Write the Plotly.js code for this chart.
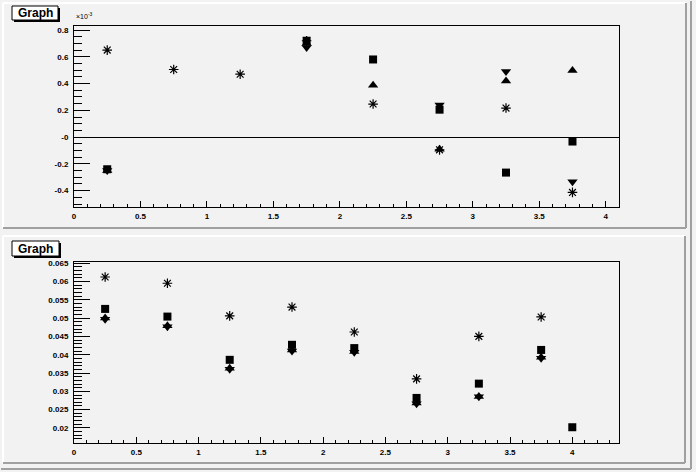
<!DOCTYPE html>
<html>
<head>
<meta charset="utf-8">
<script src="https://cdn.plot.ly/plotly-3.0.1.min.js"></script>
<style>html,body{margin:0;padding:0;background:#f2f2f2;}#chart{width:696px;height:472px;}</style>
</head>
<body>
<div id="chart"></div>
<script>
// ---- Data: top pad (values in units of 1e-3) ----
const topX = [0.25, 0.75, 1.25, 1.75, 2.25, 2.75, 3.25, 3.75];
const topSquare  = [-0.24, null, null, 0.72, 0.58, 0.205, -0.265, -0.033];
const topTriUp   = [-0.25, null, null, 0.70, 0.387, -0.09, 0.42, 0.497];
const topTriDown = [-0.25, null, null, 0.67, null, 0.24, 0.49, -0.333];
const topStar    = [0.65, 0.505, 0.47, 0.72, 0.247, -0.095, 0.217, -0.413];
const topYTickVals = [-0.4, -0.2, 0, 0.2, 0.4, 0.6, 0.8];
const topYTickText = ['-0.4', '-0.2', '-0', '0.2', '0.4', '0.6', '0.8'];

// ---- Data: bottom pad ----
const botX = [0.25, 0.75, 1.25, 1.75, 2.25, 2.75, 3.25, 3.75, 4.0];
const botSquare  = [0.0525, 0.0504, 0.0386, 0.0427, 0.0418, 0.0282, 0.0321, 0.0413, 0.0202];
const botTriUp   = [0.0500, 0.0479, 0.0363, 0.0413, 0.0409, 0.0268, 0.0286, 0.0393, null];
const botTriDown = [0.0497, 0.0476, 0.0360, 0.0410, 0.0407, 0.0266, 0.0285, 0.0390, null];
const botStar    = [0.0612, 0.0595, 0.0506, 0.0530, 0.0462, 0.0334, 0.0450, 0.0503, null];

const titleText = 'Graph';

const W = 696, H = 472;
const px = v => v / W;
const py = v => 1 - v / H;

function mk(x, y, sym, size, xa, ya, open) {
  return {
    x: x, y: y, type: 'scatter', mode: 'markers', xaxis: xa, yaxis: ya,
    showlegend: false, hoverinfo: 'skip',
    marker: open
      ? {symbol: sym, size: size, color: 'black', line: {color: 'black', width: 1.2}}
      : {symbol: sym, size: size, color: 'black', line: {width: 0}}
  };
}

const data = [
  mk(topX, topStar, 'asterisk-open', 8, 'x', 'y', true),
  mk(topX, topTriUp, 'triangle-up', 9, 'x', 'y'),
  mk(topX, topTriDown, 'triangle-down', 9, 'x', 'y'),
  mk(topX, topSquare, 'square', 8, 'x', 'y'),
  mk(botX, botStar, 'asterisk-open', 8, 'x2', 'y2', true),
  mk(botX, botTriUp, 'triangle-up', 9, 'x2', 'y2'),
  mk(botX, botTriDown, 'triangle-down', 9, 'x2', 'y2'),
  mk(botX, botSquare, 'square', 8, 'x2', 'y2'),
];

const tickFont = {family: 'Liberation Sans, Arial, sans-serif', size: 8, color: 'black', weight: 'bold'};

function xaxisDef(range, yDomainAnchor) {
  return {
    domain: [px(74), px(619)], range: range, anchor: yDomainAnchor,
    showgrid: false, zeroline: false, showline: true, linecolor: 'black', linewidth: 1, mirror: true,
    ticks: 'inside', ticklen: 6, tickcolor: 'black', tickwidth: 1,
    tickmode: 'linear', tick0: 0, dtick: 0.5, tickfont: tickFont, ticklabelstandoff: 1,
    minor: {tickmode: 'linear', tick0: 0, dtick: 0.1, ticks: 'inside', ticklen: 3, tickcolor: 'black', tickwidth: 1, showgrid: false}
  };
}

function padShapes(x0, y0, x1, y1) {
  return [
    {type: 'rect', xref: 'paper', yref: 'paper', x0: px(x0), x1: px(x1), y0: py(y1), y1: py(y0), fillcolor: '#f2f2f2', line: {width: 0}, layer: 'below'},
    {type: 'line', xref: 'paper', yref: 'paper', x0: px(x0), x1: px(x1), y0: py(y0), y1: py(y0), line: {color: 'white', width: 2}, layer: 'below'},
    {type: 'line', xref: 'paper', yref: 'paper', x0: px(x0), x1: px(x0), y0: py(y0), y1: py(y1), line: {color: 'white', width: 2}, layer: 'below'},
    {type: 'line', xref: 'paper', yref: 'paper', x0: px(x0), x1: px(x1), y0: py(y1), y1: py(y1), line: {color: '#a0a0a0', width: 2}, layer: 'below'},
    {type: 'line', xref: 'paper', yref: 'paper', x0: px(x1), x1: px(x1), y0: py(y0), y1: py(y1), line: {color: '#a0a0a0', width: 2}, layer: 'below'},
  ];
}
function titleBox(x0, y0, x1, y1) {
  return [
    {type: 'rect', xref: 'paper', yref: 'paper', x0: px(x0 + 2), x1: px(x1 + 2), y0: py(y1 + 2), y1: py(y0 + 2), fillcolor: 'black', line: {width: 0}},
    {type: 'rect', xref: 'paper', yref: 'paper', x0: px(x0), x1: px(x1), y0: py(y1), y1: py(y0), fillcolor: 'white', line: {color: 'black', width: 1}},
  ];
}

const shapes = [].concat(
  [{type: 'line', xref: 'paper', yref: 'paper', x0: px(691), x1: px(691), y0: py(1), y1: py(469), line: {color: '#a0a0a0', width: 2}, layer: 'below'},
   {type: 'line', xref: 'paper', yref: 'paper', x0: px(1), x1: px(691), y0: py(469), y1: py(469), line: {color: '#a0a0a0', width: 2}, layer: 'below'}],
  padShapes(3, 3, 686, 228),
  padShapes(3, 236, 685, 463),
  titleBox(12, 6, 58, 20),
  titleBox(12, 241, 59, 256)
);

const titleFont = {family: 'Liberation Sans, Arial, sans-serif', size: 12, color: 'black', weight: 'bold'};

const layout = {
  width: W, height: H,
  margin: {l: 0, r: 0, t: 0, b: 0},
  paper_bgcolor: '#f2f2f2', plot_bgcolor: '#f2f2f2',
  showlegend: false,
  xaxis: xaxisDef([0, 4.1], 'y'),
  yaxis: {
    domain: [py(207), py(26)], range: [-0.522, 0.83], anchor: 'x',
    showgrid: false, showline: true, linecolor: 'black', linewidth: 1, mirror: true,
    zeroline: true, zerolinecolor: 'black', zerolinewidth: 1,
    ticks: 'inside', ticklen: 16, tickcolor: 'black', tickwidth: 1,
    tickmode: 'array', tickvals: topYTickVals, ticktext: topYTickText, tickfont: tickFont, ticklabelstandoff: 3,
    minor: {tickmode: 'linear', tick0: 0, dtick: 0.05, ticks: 'inside', ticklen: 8, tickcolor: 'black', tickwidth: 1, showgrid: false}
  },
  xaxis2: xaxisDef([0, 4.375], 'y2'),
  yaxis2: {
    domain: [py(443), py(262)], range: [0.0159, 0.0653], anchor: 'x2',
    showgrid: false, showline: true, linecolor: 'black', linewidth: 1, mirror: true, zeroline: false,
    ticks: 'inside', ticklen: 16, tickcolor: 'black', tickwidth: 1,
    tickmode: 'linear', tick0: 0, dtick: 0.005, tickfont: tickFont, ticklabelstandoff: 3,
    minor: {tickmode: 'linear', tick0: 0, dtick: 0.001, ticks: 'inside', ticklen: 8, tickcolor: 'black', tickwidth: 1, showgrid: false}
  },
  shapes: shapes,
  annotations: [
    {xref: 'paper', yref: 'paper', x: px(35), y: py(13), text: titleText, showarrow: false, font: titleFont, xanchor: 'center', yanchor: 'middle'},
    {xref: 'paper', yref: 'paper', x: px(35.5), y: py(248.5), text: titleText, showarrow: false, font: titleFont, xanchor: 'center', yanchor: 'middle'},
    {xref: 'paper', yref: 'paper', x: px(74), y: py(22), text: '×10<sup>-3</sup>', showarrow: false,
     font: {family: 'Liberation Sans, Arial, sans-serif', size: 7, color: 'black'}, xanchor: 'left', yanchor: 'bottom'}
  ]
};

Plotly.newPlot('chart', data, layout, {staticPlot: true, displayModeBar: false});
</script>
</body>
</html>
